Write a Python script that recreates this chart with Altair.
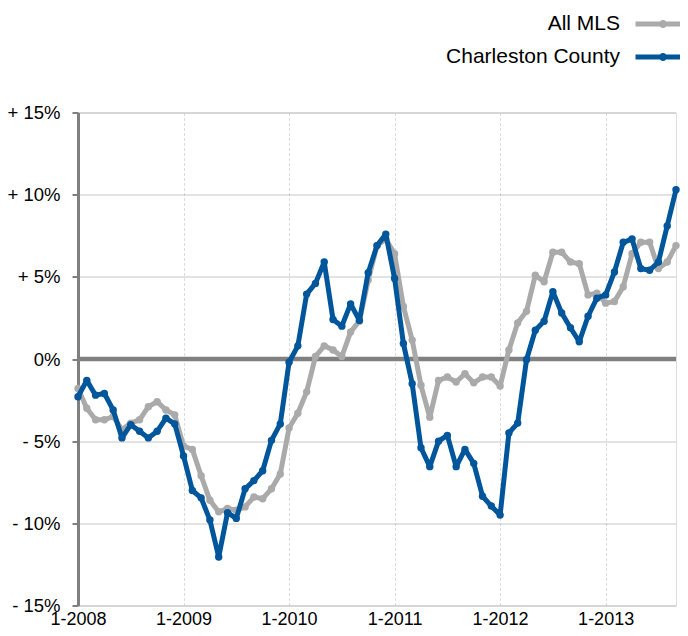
import altair as alt
import pandas as pd

months = [f"{y}-{m:02d}" for y in range(2008, 2014) for m in range(1, 13)][:69]

all_mls = [
    -1.8, -3.0, -3.7, -3.7, -3.5, -4.3, -3.9, -3.7, -2.9, -2.6, -3.1, -3.4,
    -5.3, -5.5, -7.1, -8.6, -9.3, -9.1, -9.2, -9.0, -8.4, -8.5, -7.9, -7.0,
    -4.2, -3.3, -2.0, 0.15, 0.8, 0.55, 0.15, 1.65, 2.3, 4.8, 6.9, 7.3,
    6.4, 3.2, 1.15, -1.6, -3.55, -1.3, -1.1, -1.4, -0.9, -1.45, -1.1, -1.1,
    -1.65, 0.55, 2.2, 2.9, 5.1, 4.7, 6.5, 6.5, 5.9, 5.8, 3.9, 4.0,
    3.4, 3.5, 4.4, 6.4, 7.1, 7.1, 5.5, 5.9, 6.9,
]

charleston = [
    -2.3, -1.3, -2.2, -2.1, -3.1, -4.8, -4.0, -4.4, -4.8, -4.4, -3.6, -3.95,
    -5.9, -8.0, -8.45, -9.8, -12.05, -9.35, -9.7, -7.9, -7.4, -6.8, -4.95, -3.95,
    -0.2, 0.8, 3.95, 4.6, 5.9, 2.4, 2.0, 3.35, 2.35, 5.25, 6.9, 7.6,
    4.9, 0.95, -1.5, -5.4, -6.55, -5.0, -4.65, -6.55, -5.5, -6.35, -8.35, -8.95,
    -9.5, -4.5, -3.9, -0.05, 1.75, 2.3, 4.1, 2.8, 1.9, 1.05, 2.6, 3.7,
    3.9, 5.3, 7.1, 7.3, 5.5, 5.4, 5.9, 8.1, 10.3,
]

series_names = ["All MLS", "Charleston County"]
series_colors = ["#aaaaaa", "#00569b"]
y_ticks = [-15, -10, -5, 0, 5, 10, 15]
year_ticks = [0, 12, 24, 36, 48, 60]
zero_line = [0]

rows = []
for name, vals in zip(series_names, [all_mls, charleston]):
    for i, (m, v) in enumerate(zip(months, vals)):
        rows.append({"idx": i, "month": m, "series": name, "value": v})
df = pd.DataFrame(rows)

FONT = "Liberation Sans"
# legend glyph: a 55px line (scale 10 -> +-2.75) with a small dot in the middle
legend_path = ("M-2.75,0L2.75,0M-0.15,0A0.15,0.15,0,1,0,0.15,0"
               "A0.15,0.15,0,1,0,-0.15,0")

x_enc = alt.X(
    "idx:Q",
    scale=alt.Scale(domain=[0, 68], nice=False, zero=False),
    axis=alt.Axis(
        values=year_ticks,
        labelExpr="'1-' + (2008 + datum.value / 12)",
        grid=True, gridColor="#dcdcdc", gridDash=[3, 2], gridWidth=1,
        ticks=False, domain=False, labelPadding=5, title=None,
        labelFlush=False, labelOverlap=False,
        labelFontSize=18, labelFont=FONT, labelColor="#000000",
    ),
)
y_enc = alt.Y(
    "value:Q",
    scale=alt.Scale(domain=[-15, 15], nice=False, zero=False),
    axis=alt.Axis(
        values=y_ticks,
        labelExpr="datum.value > 0 ? '+ ' + datum.value + '%' : (datum.value < 0 ? '- ' + abs(datum.value) + '%' : '0%')",
        grid=True, gridColor="#8c8c8c", gridDash=[1, 1], gridWidth=1,
        domainColor="#808080", domainWidth=3,
        tickColor="#808080", tickWidth=2, tickSize=6,
        labelPadding=12, title=None,
        labelFontSize=18.5, labelFont=FONT, labelColor="#000000",
    ),
)
legend = alt.Legend(
    orient="none", legendX=572.5, legendY=-101, direction="vertical",
    title=None, labelAlign="right", labelOffset={"expr": "-55.5"},
    labelFontSize=21, labelFont=FONT, labelColor="#000000", labelLimit=400,
    symbolType=legend_path, symbolSize=400, symbolStrokeWidth=5,
    symbolOpacity=1, rowPadding=9, padding=0,
)
color_enc = alt.Color(
    "series:N",
    scale=alt.Scale(domain=series_names, range=series_colors),
    legend=legend,
)

base = alt.Chart(df)

zero = alt.Chart(pd.DataFrame({"z": zero_line})).mark_rule(
    color="#808080", strokeWidth=4.5
).encode(y=alt.Y("z:Q"))

layers = [zero]
for name in series_names:
    sub = base.transform_filter(alt.datum.series == name)
    layers.append(sub.mark_line(strokeWidth=5, strokeJoin="round").encode(
        x=x_enc, y=y_enc, color=color_enc))
    layers.append(sub.mark_point(filled=True, size=55, opacity=1).encode(
        x=x_enc, y=y_enc, color=color_enc))

chart = alt.layer(*layers).properties(
    width=598, height=493,
    autosize=alt.AutoSizeParams(type="none"),
    padding={"left": 70, "top": 104.5, "right": 4, "bottom": 22.5},
).configure_view(
    stroke="#8c8c8c", strokeDash=[1, 1], strokeWidth=1
).configure(background="white")

chart.save("out.html", embed_options={"renderer": "svg", "actions": False})
